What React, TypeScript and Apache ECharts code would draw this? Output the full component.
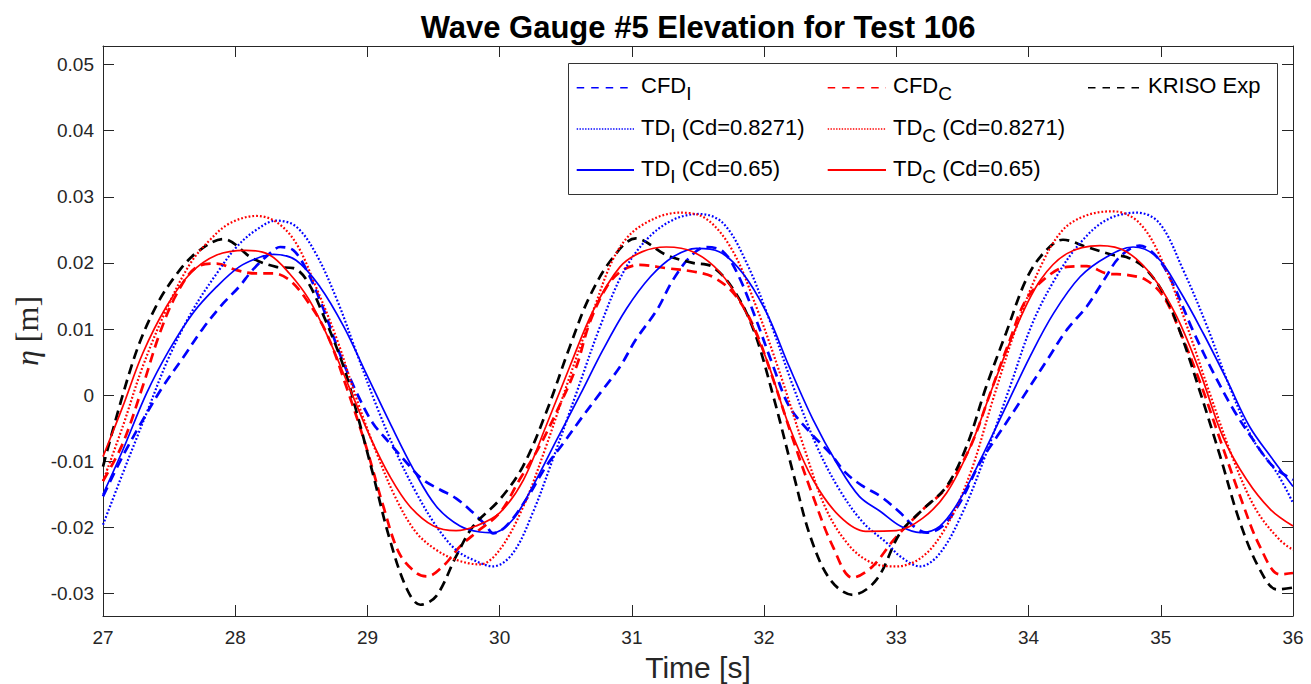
import React, { useEffect, useRef } from "react";
import * as echarts from "echarts";

type Pt = [number, number];

// ---- data (time [s], eta [m]) ----
const cfdI: Pt[] = [
  [27.0, -0.0153], [27.15, -0.0092], [27.3, -0.0038], [27.45, 0.0012], [27.61, 0.0058], [27.76, 0.0102],
  [27.91, 0.0139], [28.03, 0.0164], [28.13, 0.0189], [28.26, 0.0214], [28.34, 0.0224], [28.44, 0.0219],
  [28.54, 0.0189], [28.66, 0.0134], [28.79, 0.0063], [28.92, 0.0003], [29.04, -0.0042], [29.17, -0.0073],
  [29.3, -0.0103], [29.42, -0.0128], [29.55, -0.0143], [29.67, -0.0156], [29.8, -0.0178], [29.9, -0.0198],
  [29.95, -0.0209], [30.05, -0.0198], [30.2, -0.0158], [30.35, -0.0108], [30.48, -0.0073], [30.61, -0.0037],
  [30.76, 0.0003], [30.91, 0.0043], [31.03, 0.0084], [31.19, 0.0129], [31.31, 0.0174], [31.44, 0.0209],
  [31.56, 0.0224], [31.69, 0.0217], [31.81, 0.0179], [31.94, 0.0114], [32.07, 0.0043], [32.19, -0.0017],
  [32.35, -0.0057], [32.5, -0.0088], [32.62, -0.0118], [32.75, -0.0138], [32.88, -0.0153], [33.03, -0.0178],
  [33.13, -0.0198], [33.23, -0.0208], [33.35, -0.0198], [33.48, -0.0163], [33.63, -0.0103], [33.76, -0.0063],
  [33.88, -0.0027], [34.01, 0.0013], [34.14, 0.0053], [34.29, 0.0099], [34.44, 0.0134], [34.57, 0.0174],
  [34.69, 0.0209], [34.84, 0.0226], [34.97, 0.0209], [35.09, 0.0169], [35.24, 0.0099], [35.4, 0.0033],
  [35.55, -0.0022], [35.7, -0.0068], [35.85, -0.0108], [36.0, -0.0128],
];

const cfdC: Pt[] = [
  [27.0, -0.013], [27.15, -0.0073], [27.3, 0.0013], [27.43, 0.0094], [27.56, 0.0154], [27.71, 0.0194],
  [27.86, 0.0199], [28.01, 0.0189], [28.16, 0.0184], [28.29, 0.0184], [28.41, 0.0174], [28.54, 0.0144],
  [28.69, 0.0094], [28.84, 0.0013], [28.99, -0.0078], [29.12, -0.0168], [29.24, -0.0239], [29.37, -0.0269],
  [29.45, -0.0274], [29.57, -0.0259], [29.7, -0.0229], [29.82, -0.0208], [30.0, -0.0178], [30.15, -0.0128],
  [30.3, -0.0078], [30.45, -0.0017], [30.58, 0.0043], [30.68, 0.0109], [30.81, 0.0164], [30.93, 0.0189],
  [31.06, 0.0197], [31.26, 0.0192], [31.46, 0.0187], [31.61, 0.0179], [31.77, 0.0154], [31.92, 0.0104],
  [32.07, 0.0023], [32.22, -0.0068], [32.37, -0.0153], [32.52, -0.0229], [32.67, -0.0276], [32.82, -0.0259],
  [32.98, -0.0219], [33.2, -0.0173], [33.38, -0.014], [33.56, -0.0078], [33.71, 0.0003], [33.86, 0.0084],
  [33.98, 0.0144], [34.14, 0.0179], [34.29, 0.0194], [34.44, 0.0195], [34.59, 0.0184], [34.74, 0.0182],
  [34.89, 0.0174], [35.02, 0.0149], [35.14, 0.0099], [35.3, 0.0018], [35.45, -0.0068], [35.6, -0.0153],
  [35.75, -0.0229], [35.9, -0.0271], [36.0, -0.0269],
];

const krisoExp: Pt[] = [
  [27.0, -0.0108], [27.23, 0.0053], [27.4, 0.0134], [27.58, 0.0189], [27.73, 0.0219], [27.91, 0.0236],
  [28.13, 0.0207], [28.31, 0.0194], [28.44, 0.0192], [28.54, 0.0174], [28.66, 0.0124], [28.82, 0.0043],
  [28.92, -0.0027], [29.04, -0.0118], [29.17, -0.0219], [29.3, -0.0294], [29.4, -0.0317], [29.52, -0.0304],
  [29.67, -0.0244], [29.8, -0.0198], [30.0, -0.0158], [30.175, -0.0108], [30.35, -0.0027], [30.53, 0.0073],
  [30.68, 0.0149], [30.86, 0.0209], [31.03, 0.0237], [31.26, 0.0212], [31.46, 0.02], [31.61, 0.0194],
  [31.77, 0.0159], [31.92, 0.0099], [32.07, -0.0002], [32.22, -0.0118], [32.35, -0.0214], [32.5, -0.0279],
  [32.67, -0.0302], [32.85, -0.0279], [33.03, -0.0208], [33.2, -0.0173], [33.38, -0.0138], [33.53, -0.0078],
  [33.68, 0.0013], [33.83, 0.0094], [33.98, 0.0174], [34.11, 0.0214], [34.26, 0.0235], [34.44, 0.0224],
  [34.64, 0.0212], [34.74, 0.0209], [34.87, 0.0194], [35.02, 0.0154], [35.14, 0.0099], [35.3, 0.0003],
  [35.45, -0.0093], [35.6, -0.0193], [35.75, -0.0264], [35.88, -0.0294], [36.0, -0.0291],
];

const tdIHigh: Pt[] = [
  [27.0, -0.0196], [27.15, -0.0118], [27.33, -0.0027], [27.5, 0.0058], [27.68, 0.0129], [27.86, 0.0184],
  [28.01, 0.0224], [28.16, 0.025], [28.31, 0.0264], [28.46, 0.0255], [28.61, 0.0214], [28.77, 0.0144],
  [28.92, 0.0063], [29.07, -0.0017], [29.22, -0.0088], [29.37, -0.0148], [29.52, -0.0198], [29.67, -0.0234],
  [29.82, -0.0251], [29.95, -0.0259], [30.1, -0.0239], [30.25, -0.0178], [30.4, -0.0098], [30.58, 0.0003],
  [30.76, 0.0104], [30.93, 0.0184], [31.11, 0.0235], [31.31, 0.0265], [31.51, 0.0274], [31.69, 0.026],
  [31.87, 0.0199], [32.04, 0.0114], [32.22, 0.0013], [32.4, -0.0078], [32.57, -0.0143], [32.75, -0.0193],
  [32.93, -0.0224], [33.03, -0.0244], [33.18, -0.0259], [33.33, -0.0239], [33.5, -0.0178], [33.68, -0.0088],
  [33.86, 0.0013], [34.03, 0.0109], [34.21, 0.0179], [34.39, 0.023], [34.59, 0.0265], [34.82, 0.0276],
  [34.99, 0.026], [35.17, 0.0189], [35.35, 0.0104], [35.52, 0.0013], [35.7, -0.0068], [35.88, -0.0118],
  [36.0, -0.0163],
];

const tdCHigh: Pt[] = [
  [27.0, -0.013], [27.15, -0.0047], [27.3, 0.0043], [27.48, 0.013], [27.66, 0.0199], [27.81, 0.0235],
  [27.96, 0.026], [28.16, 0.0271], [28.31, 0.0262], [28.46, 0.023], [28.61, 0.0164], [28.77, 0.0084],
  [28.92, -0.0007], [29.07, -0.0088], [29.22, -0.0158], [29.37, -0.0208], [29.52, -0.0234], [29.67, -0.0249],
  [29.85, -0.0256], [30.0, -0.0234], [30.18, -0.0168], [30.35, -0.0078], [30.53, 0.0028], [30.71, 0.0129],
  [30.88, 0.0214], [31.06, 0.0255], [31.36, 0.0276], [31.56, 0.0267], [31.76, 0.0219], [31.94, 0.0134],
  [32.12, 0.0033], [32.3, -0.0078], [32.47, -0.0173], [32.65, -0.0229], [32.82, -0.0254], [33.0, -0.0259],
  [33.2, -0.0244], [33.38, -0.0198], [33.56, -0.0118], [33.73, -0.0007], [33.91, 0.0104], [34.09, 0.0194],
  [34.26, 0.025], [34.44, 0.0272], [34.64, 0.0278], [34.84, 0.026], [35.02, 0.0199], [35.19, 0.0109],
  [35.37, 0.0003], [35.55, -0.0098], [35.72, -0.0173], [35.9, -0.0219], [36.0, -0.0234],
];

const tdILow: Pt[] = [
  [27.0, -0.015], [27.15, -0.0083], [27.33, 0.0003], [27.5, 0.0068], [27.68, 0.0124], [27.86, 0.0164],
  [28.03, 0.0194], [28.19, 0.0209], [28.29, 0.0213], [28.46, 0.0204], [28.64, 0.0164], [28.82, 0.0104],
  [28.99, 0.0033], [29.17, -0.0042], [29.35, -0.0113], [29.52, -0.0168], [29.7, -0.0198], [29.85, -0.0207],
  [29.95, -0.0208], [30.1, -0.0188], [30.25, -0.0138], [30.43, -0.0068], [30.61, 0.0001], [30.78, 0.0068],
  [30.96, 0.0131], [31.14, 0.0179], [31.31, 0.0209], [31.49, 0.0222], [31.66, 0.0217], [31.84, 0.0184],
  [32.02, 0.0124], [32.19, 0.0043], [32.37, -0.0037], [32.55, -0.0103], [32.72, -0.0153], [32.88, -0.0176],
  [33.03, -0.0198], [33.18, -0.0208], [33.33, -0.0198], [33.48, -0.0158], [33.66, -0.0088], [33.83, -0.0017],
  [34.01, 0.0058], [34.19, 0.0124], [34.39, 0.0179], [34.59, 0.0209], [34.79, 0.0224], [34.97, 0.0209],
  [35.14, 0.0159], [35.32, 0.0094], [35.5, 0.0023], [35.67, -0.0047], [35.85, -0.0098], [36.0, -0.0138],
];

const tdCLow: Pt[] = [
  [27.0, -0.0093], [27.15, -0.0017], [27.3, 0.0063], [27.48, 0.0134], [27.66, 0.0184], [27.86, 0.0212],
  [28.08, 0.0219], [28.26, 0.0212], [28.41, 0.0184], [28.56, 0.0144], [28.71, 0.0084], [28.86, 0.0013],
  [29.02, -0.0063], [29.17, -0.0123], [29.32, -0.0168], [29.5, -0.0198], [29.67, -0.0205], [29.82, -0.0198],
  [30.0, -0.0178], [30.18, -0.0128], [30.35, -0.0047], [30.53, 0.0043], [30.71, 0.0129], [30.91, 0.0194],
  [31.08, 0.0217], [31.26, 0.0224], [31.46, 0.0217], [31.66, 0.0187], [31.84, 0.0134], [32.02, 0.0053],
  [32.19, -0.0047], [32.37, -0.0128], [32.57, -0.0183], [32.77, -0.0206], [33.0, -0.0205], [33.2, -0.0186],
  [33.38, -0.0148], [33.56, -0.0078], [33.73, 0.0013], [33.91, 0.0104], [34.09, 0.0174], [34.29, 0.0214],
  [34.54, 0.0226], [34.74, 0.0217], [34.94, 0.0179], [35.12, 0.0119], [35.3, 0.0033], [35.47, -0.0063],
  [35.65, -0.0128], [35.83, -0.0173], [36.0, -0.0198],
];

const seriesNames = [
  "CFD_I", "CFD_C", "KRISO Exp",
  "TD_I (Cd=0.8271)", "TD_C (Cd=0.8271)",
  "TD_I (Cd=0.65)", "TD_C (Cd=0.65)",
];
const legendLabels = [
  "CFD{s|I}", "CFD{s|C}", "KRISO Exp",
  "TD{s|I} (Cd=0.8271)", "TD{s|C} (Cd=0.8271)",
  "TD{s|I} (Cd=0.65)", "TD{s|C} (Cd=0.65)",
];
const seriesData = [cfdI, cfdC, krisoExp, tdIHigh, tdCHigh, tdILow, tdCLow];
const seriesColors = ["#0000ff", "#ff0000", "#000000", "#0000ff", "#ff0000", "#0000ff", "#ff0000"];
const seriesKinds = ["dash", "dash", "dash", "dot", "dot", "solid", "solid"];
// legend placement: [column, row]
const legendCells: [number, number][] = [[0, 0], [1, 0], [2, 0], [0, 1], [1, 1], [0, 2], [1, 2]];

const X_MIN = 27;
const X_MAX = 36;
const Y_MIN = -0.0334;
const Y_MAX = 0.0528;

const SANS = '"Liberation Sans", Arial, Helvetica, sans-serif';
const SERIF = '"Liberation Serif", "Times New Roman", "DejaVu Serif", serif';
const AXIS_COLOR = "#262626";

function plotStyle(kind: string) {
  if (kind === "dash") return { width: 2.7, type: [10, 6] as number[] };
  if (kind === "dot") return { width: 2.2, type: [1.8, 2] as number[] };
  return { width: 1.7, type: "solid" as any };
}
function legendStyle(kind: string) {
  if (kind === "dash") return { lineWidth: 1.6, lineDash: [7.5, 7] };
  if (kind === "dot") return { lineWidth: 1.6, lineDash: [1.4, 1.4] };
  return { lineWidth: 2, lineDash: null as any };
}

export default function App() {
  const ref = useRef<HTMLDivElement>(null);

  useEffect(() => {
    if (!ref.current) return;
    const chart = echarts.init(ref.current, undefined, { renderer: "svg" });

    const axisLine = { show: true, onZero: false, lineStyle: { color: AXIS_COLOR, width: 1 } };
    const axisTick = { show: true, inside: true, length: 11, lineStyle: { color: AXIS_COLOR, width: 1 } };
    const axisLabel = { fontSize: 19, color: AXIS_COLOR, fontFamily: SANS };

    const colX = [576.7, 827.7, 1088];
    const colXEnd = [634, 886, 1140];
    const colText = [641, 893, 1148];
    const rowY = [87.7, 129, 170];

    const legendGraphics: any[] = [
      {
        type: "rect",
        shape: { x: 568.5, y: 63.5, width: 709, height: 131 },
        style: { fill: "#ffffff", stroke: "#333333", lineWidth: 1 },
        z: 10,
      },
    ];
    seriesNames.forEach((_, i) => {
      const [c, r] = legendCells[i];
      const ls = legendStyle(seriesKinds[i]);
      legendGraphics.push({
        type: "line",
        shape: { x1: colX[c], y1: rowY[r], x2: colXEnd[c], y2: rowY[r] },
        style: { stroke: seriesColors[i], lineWidth: ls.lineWidth, lineDash: ls.lineDash },
        z: 11,
      });
      legendGraphics.push({
        type: "text",
        x: colText[c],
        y: rowY[r] - 2,
        z: 11,
        style: {
          text: legendLabels[i],
          fontSize: 22,
          fontFamily: SANS,
          fill: "#000000",
          align: "left",
          verticalAlign: "middle",
          rich: {
            s: { fontSize: 19, fontFamily: SANS, fill: "#000000", padding: [16, 0, 0, 0] },
          },
        },
      });
    });

    const option: any = {
      animation: false,
      backgroundColor: "#ffffff",
      grid: { left: 103, right: 18, top: 46, bottom: 68, containLabel: false },
      xAxis: [
        {
          type: "value", min: X_MIN, max: X_MAX, interval: 1, position: "bottom",
          axisLine, axisTick, splitLine: { show: false },
          axisLabel: { ...axisLabel, margin: 12 },
        },
        {
          type: "value", min: X_MIN, max: X_MAX, interval: 1, position: "top",
          axisLine, axisTick, splitLine: { show: false }, axisLabel: { show: false },
        },
      ],
      yAxis: [
        {
          type: "value", min: Y_MIN, max: Y_MAX, splitNumber: 8, minInterval: 0.01, maxInterval: 0.01,
          position: "left", axisLine, axisTick, splitLine: { show: false },
          axisLabel: { ...axisLabel, margin: 9, showMinLabel: false, showMaxLabel: false },
        },
        {
          type: "value", min: Y_MIN, max: Y_MAX, splitNumber: 8, minInterval: 0.01, maxInterval: 0.01,
          position: "right", axisLine, axisTick, splitLine: { show: false }, axisLabel: { show: false },
        },
      ],
      series: seriesNames.map((name, i) => {
        const st = plotStyle(seriesKinds[i]);
        return {
          name,
          type: "line",
          xAxisIndex: 0,
          yAxisIndex: 0,
          data: seriesData[i],
          symbol: "none",
          smooth: 0.35,
          clip: true,
          lineStyle: { color: seriesColors[i], width: st.width, type: st.type, cap: "butt" },
          itemStyle: { color: seriesColors[i] },
          z: 2 + i,
        };
      }),
      graphic: [
        {
          type: "text",
          x: 698,
          y: 27,
          style: {
            text: "Wave Gauge #5 Elevation for Test 106",
            fontSize: 31,
            fontWeight: "bold",
            fontFamily: SANS,
            fill: "#000000",
            align: "center",
            verticalAlign: "middle",
          },
        },
        {
          type: "text",
          x: 698,
          y: 667,
          style: {
            text: "Time [s]",
            fontSize: 30,
            fontFamily: SANS,
            fill: AXIS_COLOR,
            align: "center",
            verticalAlign: "middle",
          },
        },
        {
          type: "text",
          x: 27,
          y: 331,
          rotation: Math.PI / 2,
          style: {
            text: "{i|η} [m]",
            fontSize: 32,
            fontFamily: SERIF,
            fill: AXIS_COLOR,
            align: "center",
            verticalAlign: "middle",
            rich: {
              i: { fontSize: 32, fontFamily: SERIF, fontStyle: "italic", fill: AXIS_COLOR },
            },
          },
        },
        ...legendGraphics,
      ],
    };

    chart.setOption(option);
    return () => {
      chart.dispose();
    };
  }, []);

  return (
    <div
      ref={ref}
      style={{ position: "absolute", left: 0, top: 0, width: 1311, height: 684, background: "#ffffff" }}
    />
  );
}
